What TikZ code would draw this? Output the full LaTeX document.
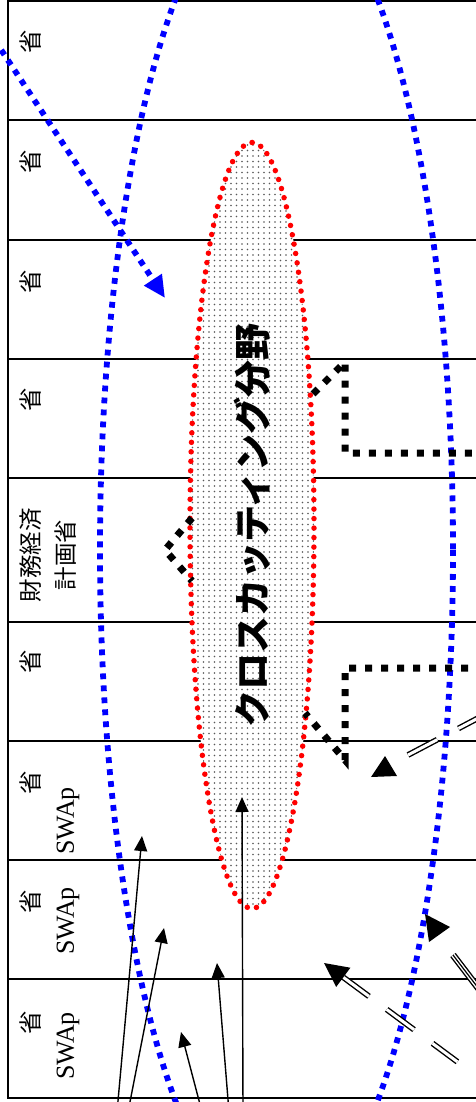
\documentclass[tikz,border=0pt]{standalone}
\usepackage{fontspec}
\setmainfont{Liberation Serif}
\newfontfamily\cjk{Noto Sans CJK JP}
\usetikzlibrary{arrows.meta,patterns.meta,shapes.geometric}
\begin{document}
\begin{tikzpicture}[x=1pt,y=-1pt,
  gridline/.style={line width=1.5pt},
  bluedots/.style={draw={rgb,255:red,0;green,0;blue,255}, line width=5.8pt, dash pattern=on 5.8pt off 6.2pt},
  blackdots/.style={draw=black, line width=7pt, dash pattern=on 7pt off 9pt},
  thinarrow/.style={line width=1.4pt, -{Triangle[length=15pt,width=13pt]}},
  dbl/.style={draw=black, double=white, double distance=3pt, line width=1.4pt},
  rowlabel/.style={rotate=90, font=\cjk\fontsize{23.5}{35}\selectfont, inner sep=0pt},
  swaplabel/.style={rotate=90, font=\fontsize{26}{28}\selectfont, inner sep=0pt},
  crossfield/.style={ellipse, rotate=90, minimum width=766pt, minimum height=124pt, inner sep=0pt,
    preaction={fill=white}, pattern={Dots[distance=5.5pt,radius=0.9pt]}, pattern color=black!65,
    draw=red, line width=5.5pt, dash pattern=on 0pt off 9.5pt, line cap=round,
    font=\cjk\bfseries\fontsize{37}{40}\selectfont},
]
\useasboundingbox (0,0) rectangle (476,1102);
\clip (0,0) rectangle (476,1102);

% frame and rows
\draw[gridline] (480,1) -- (8,1) -- (8,1098) -- (480,1098);
\foreach \yy in {120,240,359,478,622,741,860,979} \draw[gridline] (8,\yy) -- (480,\yy);

% large blue dotted ellipse
\draw[bluedots] (276.5,550) ellipse [x radius=176.5, y radius=672];

% cross-cutting field
\node[crossfield] (cross) at (252,525.5) {クロスカッティング分野};

% black dotted brackets
\coordinate (ua) at (313,394); \coordinate (ub) at (345,362);
\coordinate (uc) at (345,453); \coordinate (ud) at (484,453);
\draw[blackdots] (ua) -- (ub) -- (uc) -- (ud);
\coordinate (la) at (484,668); \coordinate (lb) at (345,668);
\coordinate (lc) at (345,760); \coordinate (ld) at (305,713);
\draw[blackdots] (la) -- (lb) -- (lc) -- (ld);
\coordinate (ca) at (192,518); \coordinate (cb) at (165,550); \coordinate (cc) at (192,581);
\draw[blackdots] (ca) -- (cb) -- (cc);

% blue dotted arrow
\coordinate (bs) at (-12,30); \coordinate (bt) at (165,298);
\draw[bluedots, -{Triangle[length=22pt,width=20pt]}] (bs) -- (bt);

% black triangles
\fill (371,777) -- (385,756) -- (397,776) -- cycle;
\fill (425,914) -- (429,942) -- (450,927) -- cycle;

% double dashed lines
\coordinate (ea) at (408,755); \coordinate (eb) at (484,715);
\draw[dbl, dash pattern=on 33pt off 24pt] (ea) -- (eb);
\coordinate (ft) at (324,963); \coordinate (fb) at (343.3,977.3); \coordinate (fe) at (482,1080);
\draw[dbl, dash pattern=on 32pt off 22pt on 34pt off 23pt on 31pt off 30pt] (fb) -- (fe);
\fill (ft) -- (336.2,986.9) -- (350.4,967.7) -- cycle;
\coordinate (ga) at (453,955); \coordinate (gb) at (482,993);
\draw[dbl, double distance=4pt] (ga) -- (gb);
\draw[line width=1.2pt] (ga) -- (gb);

% thin arrows from below
\coordinate (a1) at (117,1112); \coordinate (a1t) at (142,836);
\coordinate (a2) at (128,1112); \coordinate (a2t) at (164,928);
\coordinate (a3) at (202,1112); \coordinate (a3t) at (181,1032);
\coordinate (a4) at (229,1112); \coordinate (a4t) at (217,963);
\coordinate (a5) at (243,1112); \coordinate (a5t) at (242,797);
\draw[thinarrow] (a1) -- (a1t);
\draw[thinarrow] (a2) -- (a2t);
\draw[thinarrow] (a3) -- (a3t);
\draw[thinarrow] (a4) -- (a4t);
\draw[thinarrow] (a5) -- (a5t);

% row labels
\node[rowlabel] (r1) at (31,42) {省};
\node[rowlabel] (r2) at (31,162) {省};
\node[rowlabel] (r3) at (31,282) {省};
\node[rowlabel] (r4) at (31,400) {省};
\node[rowlabel, align=center] (r5) at (48,555) {財務経済\\計画省};
\node[rowlabel] (r6) at (31,662) {省};
\node[rowlabel] (r7) at (31,783) {省};
\node[swaplabel] (s7) at (68,821) {SWAp};
\node[rowlabel] (r8) at (31,902) {省};
\node[swaplabel] (s8) at (68,921) {SWAp};
\node[rowlabel] (r9) at (31,1023) {省};
\node[swaplabel] (s9) at (68,1046) {SWAp};
\end{tikzpicture}
\end{document}
